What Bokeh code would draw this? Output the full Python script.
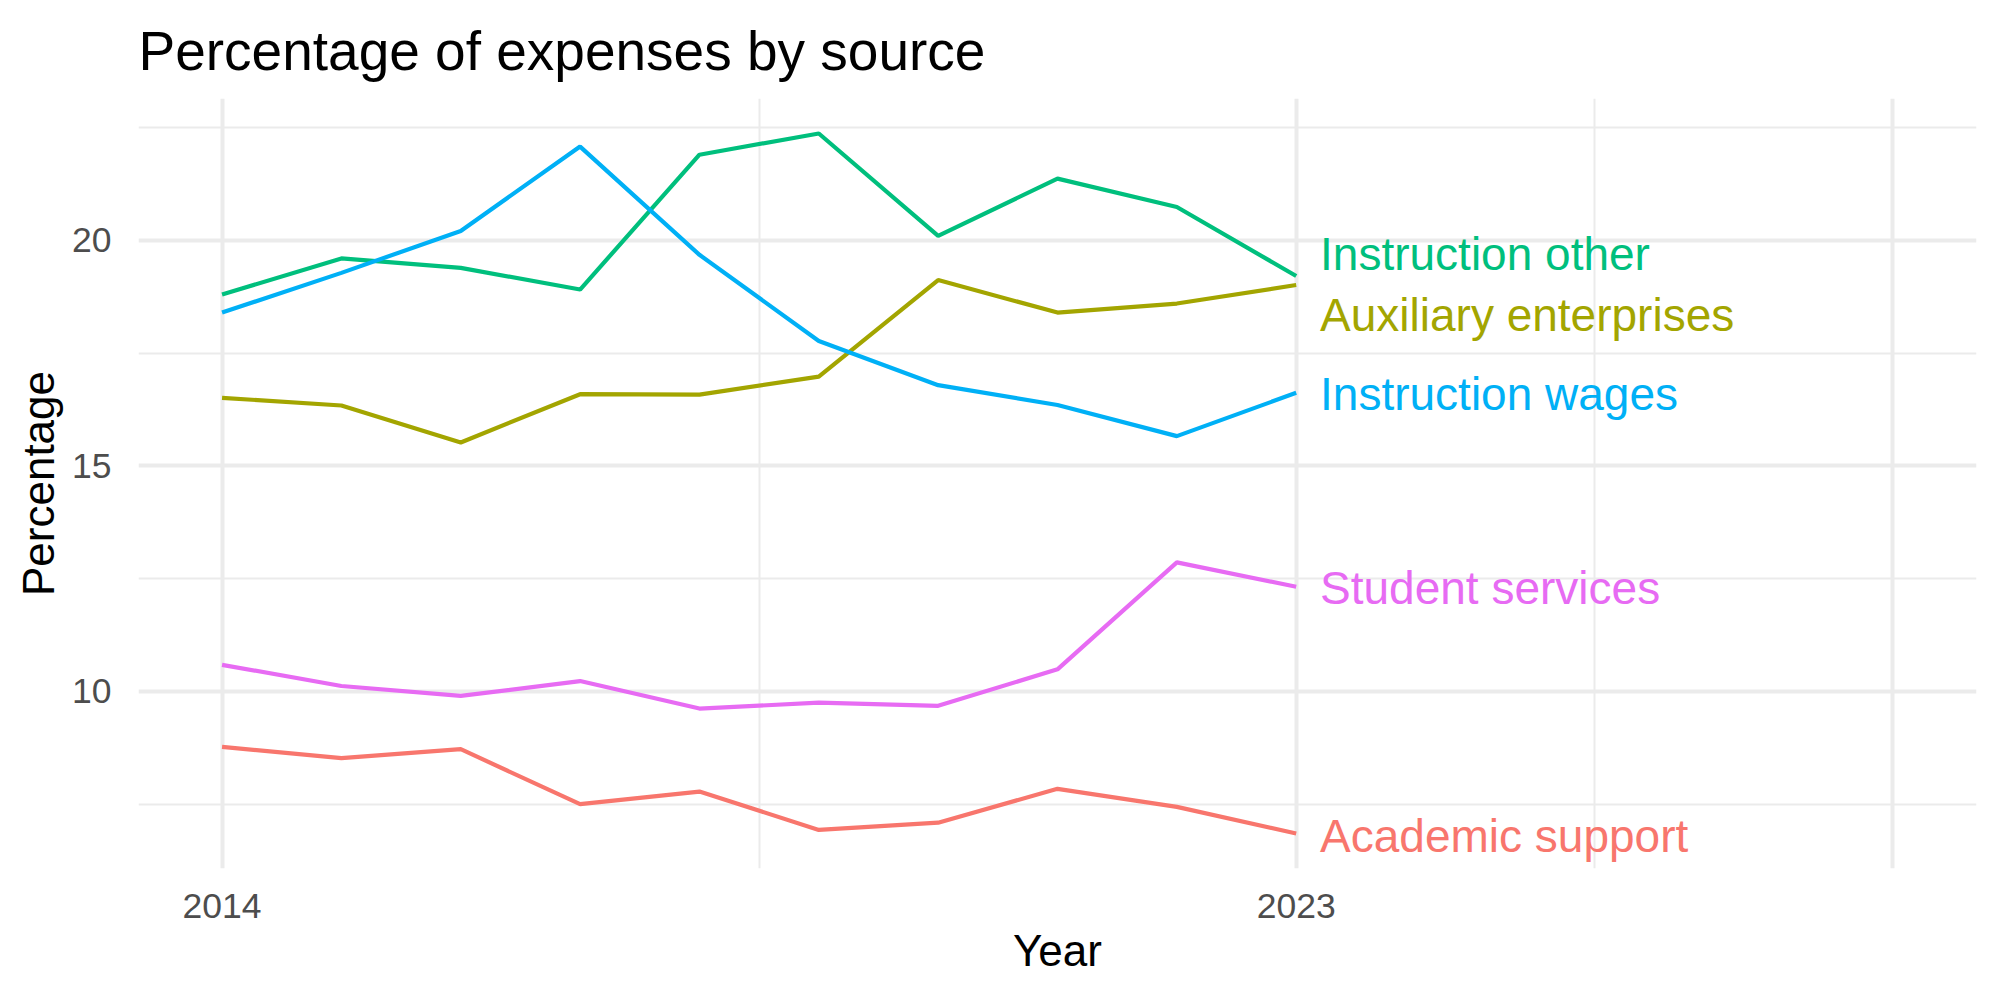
from bokeh.plotting import figure
from bokeh.models import Range1d, FixedTicker
from bokeh.core.properties import value
from bokeh.embed import file_html
from bokeh.resources import INLINE

years = [2014, 2015, 2016, 2017, 2018, 2019, 2020, 2021, 2022, 2023]

academic_support = [8.77, 8.52, 8.72, 7.50, 7.78, 6.93, 7.09, 7.84, 7.44, 6.85]
auxiliary_enterprises = [16.51, 16.34, 15.52, 16.59, 16.58, 16.98, 19.12, 18.40, 18.60, 19.01]
instruction_other = [18.80, 19.60, 19.39, 18.91, 21.90, 22.37, 20.10, 21.37, 20.74, 19.21]
instruction_wages = [18.40, 19.28, 20.21, 22.08, 19.68, 17.77, 16.79, 16.35, 15.66, 16.62]
student_services = [10.59, 10.12, 9.90, 10.23, 9.62, 9.75, 9.68, 10.49, 12.86, 12.32]

series_names = ["Academic support", "Auxiliary enterprises", "Instruction other",
                "Instruction wages", "Student services"]
series_values = [academic_support, auxiliary_enterprises, instruction_other,
                 instruction_wages, student_services]
series_colors = ["#F8766D", "#A3A500", "#00BF7D", "#00B0F6", "#E76BF3"]
# repelled label heights (data units)
label_y = [6.80, 18.34, 19.70, 16.60, 12.30]

x_tick_labels = [2014, 2023]
y_ticks = [10, 15, 20]

FONT = "Liberation Sans"

all_vals = [v for s in series_values for v in s]
ymin, ymax = min(all_vals), max(all_vals)
yr = ymax - ymin
xmin, xmax = 2014, 2028
xr = xmax - xmin

p = figure(width=2000, height=1000, output_backend="svg", toolbar_location=None,
           x_range=Range1d(xmin - 0.05 * xr, xmax + 0.05 * xr),
           y_range=Range1d(ymin - 0.05 * yr, ymax + 0.05 * yr),
           min_border_left=138, min_border_right=24, min_border_top=98,
           min_border_bottom=132)

p.outline_line_color = None
p.background_fill_color = "white"
p.border_fill_color = "white"

# title
p.title.text = "Percentage of expenses by source"
p.title.text_font = FONT
p.title.text_font_size = "55px"
p.title.text_font_style = "normal"
p.title.text_color = "black"
p.title.align = "left"
p.title.standoff = 34

# axes
p.xaxis.ticker = FixedTicker(ticks=x_tick_labels)
p.yaxis.ticker = FixedTicker(ticks=y_ticks)
for ax in (p.xaxis[0], p.yaxis[0]):
    ax.axis_line_color = None
    ax.major_tick_line_color = None
    ax.minor_tick_line_color = None
    ax.major_label_text_font = FONT
    ax.major_label_text_font_size = "35.5px"
    ax.major_label_text_color = "#4D4D4D"
    ax.axis_label_text_font = FONT
    ax.axis_label_text_font_size = "44px"
    ax.axis_label_text_font_style = "normal"
    ax.axis_label_text_color = "black"
p.xaxis.axis_label = "Year"
p.yaxis.axis_label = "Percentage"
p.xaxis.major_label_standoff = 19
p.yaxis.major_label_standoff = 21
p.xaxis.axis_label_standoff = 5
p.yaxis.axis_label_standoff = 6

# grids
p.xgrid.ticker = FixedTicker(ticks=[2014, 2023, 2028], minor_ticks=[2018.5, 2025.5])
p.ygrid.ticker = FixedTicker(ticks=y_ticks, minor_ticks=[7.5, 12.5, 17.5, 22.5])
for g in (p.xgrid[0], p.ygrid[0]):
    g.grid_line_color = "#EBEBEB"
    g.grid_line_width = 4
    g.minor_grid_line_color = "#EBEBEB"
    g.minor_grid_line_width = 2

for name, vals, col, ly in zip(series_names, series_values, series_colors, label_y):
    p.line(years, vals, line_color=col, line_width=4.2)
    p.text(x=[years[-1] + 0.2], y=[ly], text=[name], text_color=col,
           text_font=value(FONT), text_font_size="46px",
           text_baseline="middle", text_align="left")

open("out.html", "w").write(file_html(p, INLINE))
